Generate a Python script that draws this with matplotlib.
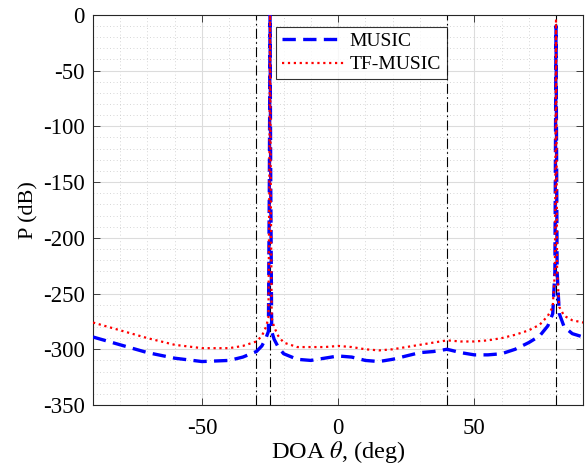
import numpy as np
import matplotlib
matplotlib.use("Agg")
import matplotlib.pyplot as plt
from matplotlib.ticker import MultipleLocator

plt.rcParams['font.family'] = ['Liberation Serif', 'DejaVu Serif']
plt.rcParams['mathtext.fontset'] = 'stix'
plt.rcParams['axes.unicode_minus'] = False

# spatial spectra, angle in degrees, power in dB
theta = [-90, -80, -70, -60, -50, -40, -35, -30, -28, -26.5, -25.6, -25.25, -25,
         -24.75, -24.4, -23.5, -22, -20, -15, -10, -5, 0, 5, 10, 15, 20, 25, 30,
         35, 40, 45, 50, 55, 60, 65, 70, 74, 77, 78.8, 79.6, 79.8, 80, 80.2, 80.4,
         81.2, 83, 86, 90]
p_music = [-289, -296, -303, -308, -311, -310, -307, -302, -297, -290, -284, -150, 0,
           -150, -284, -291, -298, -304, -309, -310, -308, -306, -307, -310, -311, -309, -306, -303,
           -302, -300, -303, -305, -305, -304, -300, -294, -288, -279, -268, -230, -120, -10, -120, -230,
           -268, -280, -286, -289]
p_tf = [-276, -283, -290, -296, -299, -299, -297, -293, -288, -280, -272, -150, 0,
        -150, -272, -280, -288, -294, -298, -298, -298, -297, -298, -300, -301, -300, -298, -296,
        -294, -292, -293, -293, -292, -290, -287, -283, -278, -270, -262, -230, -120, -5, -120, -230,
        -262, -270, -274, -276]

doa_marks = [-30, -25, 40, 80]

fig = plt.figure(figsize=(5.85, 4.65), dpi=100)
ax = fig.add_axes([0.159, 0.129, 0.838, 0.839])

for d in doa_marks:
    ax.axvline(d, color='black', lw=0.8, ls=(0, (9, 3, 1.5, 3)), zorder=1)

ax.plot(theta, p_music, color='blue', ls='--', lw=2.4, dashes=(4, 2.2), label='MUSIC', zorder=3)
ax.plot(theta, p_tf, color='red', ls=':', lw=1.6, label='TF-MUSIC', zorder=4)

ax.set_xlim(-90, 90)
ax.set_ylim(-350, 0)
ax.xaxis.set_major_locator(MultipleLocator(50))
ax.xaxis.set_minor_locator(MultipleLocator(10))
ax.yaxis.set_major_locator(MultipleLocator(50))
ax.yaxis.set_minor_locator(MultipleLocator(10))

ax.grid(which='major', color='#dcdcdc', lw=0.8, ls='-')
ax.grid(which='minor', color='#c8c8c8', lw=0.6, ls=(0, (1, 3)))
ax.set_axisbelow(True)

ax.tick_params(which='both', direction='in', top=True, right=True, labelsize=16.5,
               color='#262626', width=0.6)
ax.tick_params(which='major', length=5)
ax.tick_params(which='minor', length=0)
ax.tick_params(axis='x', pad=9)
ax.tick_params(axis='y', pad=6)
for s in ax.spines.values():
    s.set_color('#262626')
    s.set_linewidth(0.8)

ax.set_xlabel(r'DOA $\theta$, (deg)', fontsize=17.5, labelpad=0)
ax.set_ylabel('P (dB)', fontsize=16, labelpad=3)

leg = ax.legend(loc='upper left', bbox_to_anchor=(0.373, 0.97), fontsize=14,
                frameon=True, fancybox=False, edgecolor='black', handlelength=3.2,
                borderpad=0.3, labelspacing=0.3, handletextpad=0.3, borderaxespad=0)
leg.get_frame().set_linewidth(0.8)

fig.savefig('out.png', dpi=100)
